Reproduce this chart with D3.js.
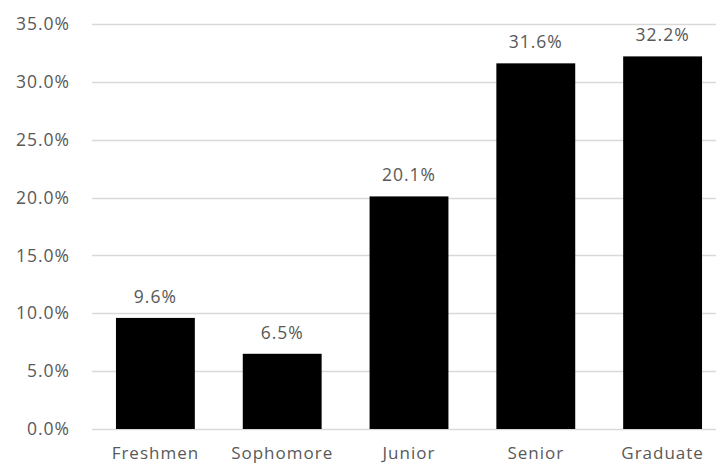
<!DOCTYPE html>
<html>
<head>
<meta charset="utf-8">
<script src="https://cdn.jsdelivr.net/npm/d3@7"></script>
<style>
  body { margin: 0; background: #fff; }
  text { font-family: "Open Sans", sans-serif; fill: #595959; }
</style>
</head>
<body>
<div class="chart"></div>
<script>
// data
var categories = ["Freshmen", "Sophomore", "Junior", "Senior", "Graduate"];
var values = [9.6, 6.5, 20.1, 31.6, 32.2];
var yTicks = [0, 5, 10, 15, 20, 25, 30, 35];

var svgWidth = 721;
var svgHeight = 465;

var svg = d3.select(".chart")
  .append("svg")
  .attr("width", svgWidth)
  .attr("height", svgHeight);

// plot area
var plotLeft = 92, plotRight = 726, plotTop = 24, plotBottom = 429;

var x = d3.scaleBand()
  .domain(categories)
  .range([plotLeft, plotRight])
  .paddingInner(0.378)
  .paddingOuter(0.189);

var y = d3.scaleLinear()
  .domain([0, 35])
  .range([plotBottom, plotTop]);

// gridlines
svg.append("g")
  .selectAll("line")
  .data(yTicks)
  .enter()
  .append("line")
  .attr("x1", plotLeft)
  .attr("x2", 716)
  .attr("y1", d => Math.round(y(d)) + 0.5)
  .attr("y2", d => Math.round(y(d)) + 0.5)
  .attr("stroke", "#d9d9d9")
  .attr("stroke-width", 1.3);

// y labels
svg.append("g")
  .selectAll("text")
  .data(yTicks)
  .enter()
  .append("text")
  .attr("x", 70)
  .attr("y", d => y(d))
  .attr("dy", "0.35em")
  .attr("text-anchor", "end")
  .style("font-size", "17.5px")
  .style("letter-spacing", "1px")
  .text(d => d.toFixed(1) + "%");

// bars
svg.append("g")
  .selectAll("rect")
  .data(values)
  .enter()
  .append("rect")
  .attr("x", (d, i) => x(categories[i]))
  .attr("width", x.bandwidth())
  .attr("y", d => y(d))
  .attr("height", d => y(0) - y(d))
  .attr("fill", "#000");

// value labels
svg.append("g")
  .selectAll("text")
  .data(values)
  .enter()
  .append("text")
  .attr("x", (d, i) => x(categories[i]) + x.bandwidth() / 2)
  .attr("y", d => y(d) - 15)
  .attr("text-anchor", "middle")
  .style("font-size", "17.5px")
  .style("letter-spacing", "1px")
  .text(d => d.toFixed(1) + "%");

// category labels
svg.append("g")
  .selectAll("text")
  .data(categories)
  .enter()
  .append("text")
  .attr("x", d => x(d) + x.bandwidth() / 2)
  .attr("y", 459)
  .attr("text-anchor", "middle")
  .style("font-size", "17px")
  .style("letter-spacing", "1px")
  .text(d => d);
</script>
</body>
</html>
